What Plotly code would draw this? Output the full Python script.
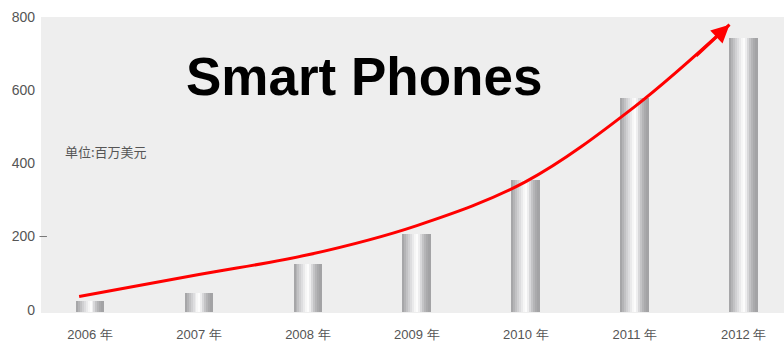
import plotly.graph_objects as go

# Smartphone market, unit: million USD
years = ["2006 年", "2007 年", "2008 年", "2009 年", "2010 年", "2011 年", "2012 年"]
values = [30, 52, 129, 211, 359, 584, 748]

# Hand-drawn growth trend (category position, value)
trend_x = [-0.1, 1.0, 2.0, 3.0, 4.0, 5.0, 5.87]
trend_y = [36, 96, 150, 230, 350, 555, 779]

y_ticks = [0, 200, 400, 600, 800]

fig = go.Figure()

# Cylindrical shading: each bar is built from thin vertical strips
shades = ["#a6a6a8", "#b4b4b6", "#c2c2c4", "#d0d0d2", "#dddddf", "#eaeaeb", "#f6f6f6",
          "#fcfcfc", "#eeeeef", "#d8d8da", "#c4c4c6", "#b5b5b7", "#aaaaac", "#a3a3a5"]
bar_w = 0.255
strip_w = bar_w / len(shades)
xs = list(range(len(years)))
for i, c in enumerate(shades):
    fig.add_trace(go.Bar(
        x=xs, y=values, base=-5,
        width=strip_w, offset=-bar_w / 2 + i * strip_w,
        marker=dict(color=c, line=dict(width=0)),
        showlegend=False, hoverinfo="skip",
    ))

fig.add_trace(go.Scatter(
    x=trend_x, y=trend_y, mode="lines",
    line=dict(color="#ff0000", width=3, shape="spline", smoothing=1.0),
    showlegend=False, hoverinfo="skip",
))

fig.add_annotation(
    x=trend_x[-1], y=trend_y[-1], ax=5.55, ay=690,
    xref="x", yref="y", axref="x", ayref="y",
    text="", showarrow=True, arrowhead=2, arrowsize=1.2,
    arrowwidth=3, arrowcolor="#ff0000",
)

fig.add_annotation(
    x=0.435, y=0.80, xref="paper", yref="paper",
    text="<b>Smart Phones</b>", showarrow=False,
    font=dict(family="Liberation Sans, Arial", size=53, color="#000000"),
    xanchor="center", yanchor="middle",
)
fig.add_annotation(
    x=0.029, y=0.545, xref="paper", yref="paper",
    text="单位:百万美元", showarrow=False,
    font=dict(family="Noto Sans CJK SC", size=13, color="#555555"),
    xanchor="left", yanchor="middle",
)

# small tick mark next to the 200 label
fig.add_shape(type="line", xref="paper", yref="y", x0=-0.002, x1=0.008,
              y0=200, y1=200, line=dict(color="#777777", width=1))

fig.update_layout(
    width=784, height=348,
    margin=dict(l=41, r=0, t=17, b=35),
    paper_bgcolor="#ffffff", plot_bgcolor="#eeeeee",
    barmode="overlay", bargap=0,
    showlegend=False,
)
fig.update_xaxes(
    tickmode="array", tickvals=xs, ticktext=years,
    range=[-0.45, 6.37], showgrid=False, zeroline=False, showline=False,
    ticks="", ticklabelstandoff=12,
    tickfont=dict(family="Liberation Sans, Arial", size=13, color="#555555"),
)
fig.update_yaxes(
    tickmode="array", tickvals=y_ticks, ticktext=[str(v) for v in y_ticks],
    range=[-9, 800], showgrid=False, zeroline=False, showline=False,
    ticks="", ticklabelstandoff=5,
    tickfont=dict(family="Liberation Sans, Arial", size=14, color="#555555"),
)

fig.write_html("out.html")
